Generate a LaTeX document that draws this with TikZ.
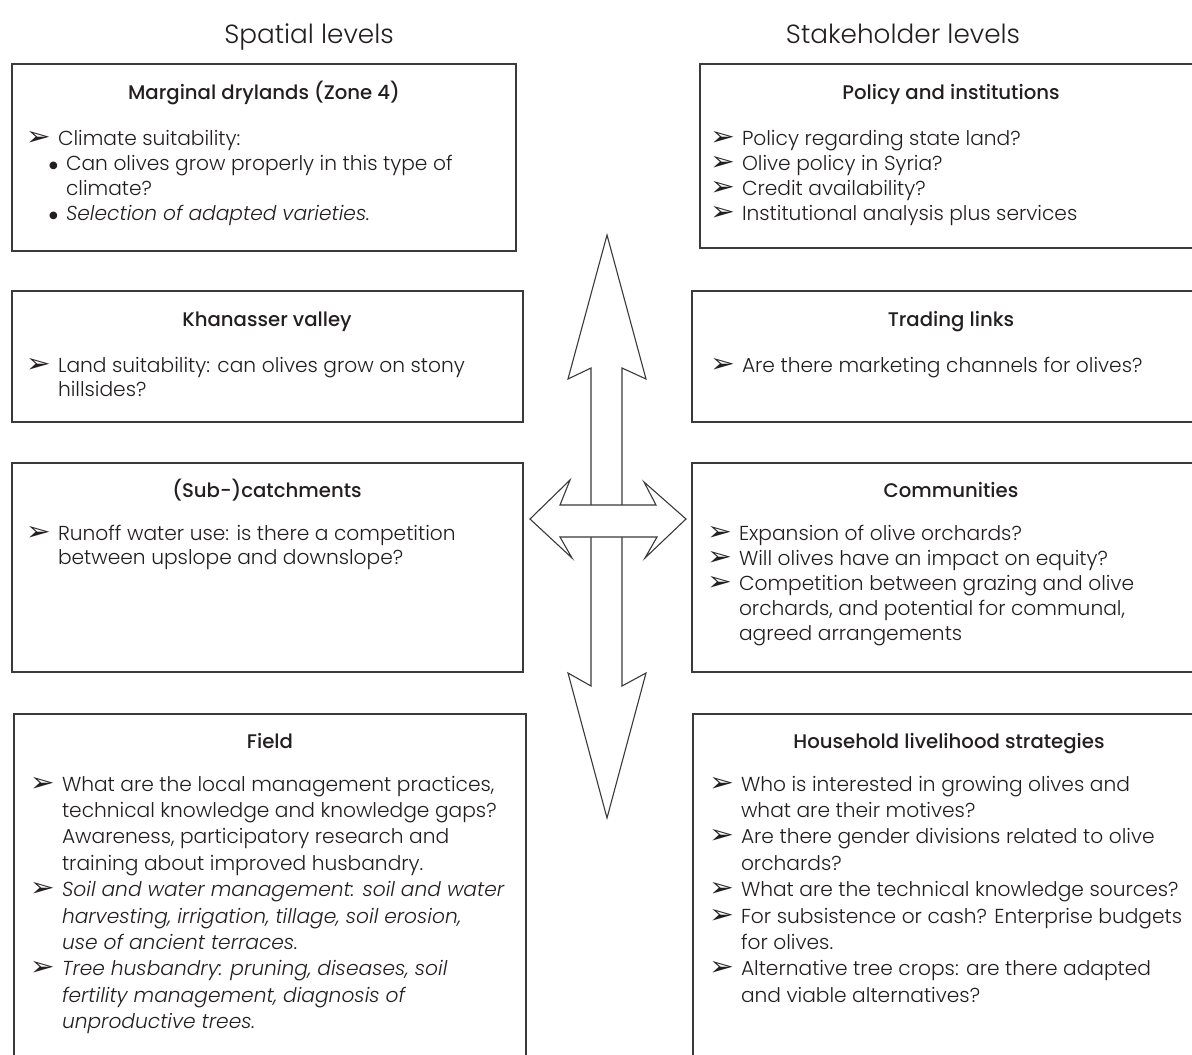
\documentclass[tikz,border=0pt]{standalone}
\usepackage{fontspec}
\setmainfont{Poppins Light}[ItalicFont={Poppins Light Italic},BoldFont={Poppins Medium}]
\newfontfamily\dvsans{DejaVu Sans}
\definecolor{ink}{HTML}{231F20}
\definecolor{edge}{HTML}{3A3A3A}
\newcommand\arrowbul{\makebox[30pt][l]{\hspace*{-2pt}\raisebox{0pt}{\scalebox{1.75}[1.55]{\dvsans\fontsize{17}{17}\selectfont\char"27A2}}}}
\newcommand\cont{\hspace*{30pt}}
\newcommand\subbul{\hspace*{21pt}\makebox[17pt][l]{\raisebox{1.5pt}{\dvsans\fontsize{10}{10}\selectfont\char"25CF}}}
\newcommand\lineset[1]{\vtop{\lineskiplimit=-100pt\halign{##\hfil\cr#1\crcr}}}
\tikzset{
  boxline/.style={draw=edge,line width=1.2pt},
  bigarrow/.style={draw=edge,line width=1.1pt,fill=white,line join=miter},
  body/.style={inner sep=0pt,outer sep=0pt,text=ink,anchor=base west},
  head/.style={inner sep=0pt,outer sep=0pt,text=ink,anchor=base,font=\bfseries\fontsize{19.7}{22}\selectfont},
  title/.style={inner sep=0pt,outer sep=0pt,text=ink,anchor=base,font=\fontsize{26.3}{30}\selectfont}
}
\begin{document}
\begin{tikzpicture}[x=1pt,y=-1pt]
\useasboundingbox (0,0) rectangle (1192,1055);
\clip (0,0) rectangle (1192,1055);
\fill[white] (0,0) rectangle (1192,1055);

% titles
\node[title] (sp) at (309,43) {Spatial levels};
\node[title] (st) at (903,43) {Stakeholder levels};

% boxes
\draw[boxline] (12,64) rectangle (516,251);
\draw[boxline] (700,64) rectangle (1205,248);
\draw[boxline] (12,291) rectangle (523,422);
\draw[boxline] (692,291) rectangle (1210,422);
\draw[boxline] (12,463) rectangle (523,672);
\draw[boxline] (692,463) rectangle (1210,672);
\draw[boxline] (14,714) rectangle (526,1070);
\draw[boxline] (693,714) rectangle (1210,1070);

% headings
\node[head] (h1) at (264,99) {Marginal drylands (Zone 4)};
\node[head] (h2) at (951,99) {Policy and institutions};
\node[head] (h3) at (267,326) {Khanasser valley};
\node[head] (h4) at (951,326) {Trading links};
\node[head] (h5) at (267,497) {(Sub-)catchments};
\node[head] (h6) at (951,497) {Communities};
\node[head] (h7) at (270,748) {Field};
\node[head] (h8) at (949,748) {Household livelihood strategies};

% bodies
\node[body,font=\fontsize{20.2}{25}\selectfont] (t1) at (28,145) {\lineset{%
\arrowbul Climate suitability:\cr
\subbul Can olives grow properly in this type of\cr
\hspace*{38pt}climate?\cr
\subbul\textit{Selection of adapted varieties.}\cr}};
\node[body,font=\fontsize{20.2}{25}\selectfont] (t2) at (712,145) {\lineset{%
\arrowbul Policy regarding state land?\cr
\arrowbul Olive policy in Syria?\cr
\arrowbul Credit availability?\cr
\arrowbul Institutional analysis plus services\cr}};
\node[body,font=\fontsize{20.2}{24.5}\selectfont] (t3) at (28,372) {\lineset{%
\arrowbul Land suitability: can olives grow on stony\cr
\cont hillsides?\cr}};
\node[body,font=\fontsize{20.2}{24.5}\selectfont] (t4) at (712,372) {\lineset{%
\arrowbul Are there marketing channels for olives?\cr}};
\node[body,font=\fontsize{20.2}{24.5}\selectfont] (t5) at (28,540) {\lineset{%
\arrowbul Runoff water use: is there a competition\cr
\cont between upslope and downslope?\cr}};
\node[body,font=\fontsize{20.2}{25}\selectfont] (t6) at (709,540) {\lineset{%
\arrowbul Expansion of olive orchards?\cr
\arrowbul Will olives have an impact on equity?\cr
\arrowbul Competition between grazing and olive\cr
\cont orchards, and potential for communal,\cr
\cont agreed arrangements\cr}};
\node[body,font=\fontsize{20.2}{26.4}\selectfont] (t7) at (32,791) {\lineset{%
\arrowbul What are the local management practices,\cr
\cont technical knowledge and knowledge gaps?\cr
\cont Awareness, participatory research and\cr
\cont training about improved husbandry.\cr
\arrowbul\textit{Soil and water management: soil and water}\cr
\cont\textit{harvesting, irrigation, tillage, soil erosion,}\cr
\cont\textit{use of ancient terraces.}\cr
\arrowbul\textit{Tree husbandry: pruning, diseases, soil}\cr
\cont\textit{fertility management, diagnosis of}\cr
\cont\textit{unproductive trees.}\cr}};
\node[body,font=\fontsize{20.2}{26.4}\selectfont] (t8) at (711,791) {\lineset{%
\arrowbul Who is interested in growing olives and\cr
\cont what are their motives?\cr
\arrowbul Are there gender divisions related to olive\cr
\cont orchards?\cr
\arrowbul What are the technical knowledge sources?\cr
\arrowbul For subsistence or cash? Enterprise budgets\cr
\cont for olives.\cr
\arrowbul Alternative tree crops: are there adapted\cr
\cont and viable alternatives?\cr}};

% central arrows
\draw[bigarrow] (607,235) -- (646,379) -- (622,368) -- (622,686) -- (646,673)
  -- (607,818) -- (568,673) -- (591,686) -- (591,368) -- (568,379) -- cycle;
\draw[bigarrow] (530,519) -- (570,480) -- (560,505) -- (656,505) -- (644,482)
  -- (686,519) -- (645,558) -- (657,537) -- (560,537) -- (572,558) -- cycle;
\end{tikzpicture}
\end{document}
